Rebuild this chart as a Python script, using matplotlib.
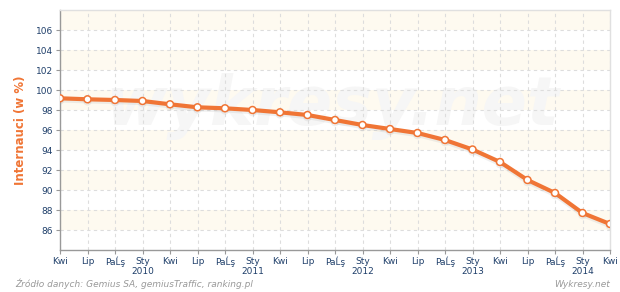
import matplotlib
matplotlib.use("Agg")
from matplotlib import pyplot as plt
import matplotlib.patheffects as pe

# quarterly data, Kwi 2009 .. Kwi 2014
months = ["Kwi", "Lip", "PaĹş", "Sty"] * 5 + ["Kwi"]
years = {3: "2010", 7: "2011", 11: "2012", 15: "2013", 19: "2014"}
values = [99.17, 99.07, 99.0, 98.9, 98.57, 98.27, 98.17, 98.0, 97.77, 97.5,
          97.0, 96.5, 96.1, 95.7, 95.0, 94.05, 92.8, 91.0, 89.7, 87.7, 86.6]

yticks = [86, 88, 90, 92, 94, 96, 98, 100, 102, 104, 106]

orange = "#F07535"
blue = "#1F3F6A"

fig = plt.figure(figsize=(6.2, 2.92), dpi=100)
ax = fig.add_axes([60 / 620, 1 - 250 / 292, 550 / 620, 240 / 292])

x = list(range(len(values)))
ax.set_xlim(0, len(values) - 1)
ax.set_ylim(84, 108)

# alternating background bands
for lo in range(86, 108, 4):
    ax.axhspan(lo, lo + 2, color="#FEFAF0", zorder=0, lw=0)

ax.grid(True, color="#DDDDDD", linestyle=(0, (3, 3)), linewidth=0.8, zorder=1)

ax.text(0.495, 0.6, "wykresy.net", transform=ax.transAxes, fontsize=48,
        fontweight="bold", style="italic", color="#F6F6F6", ha="center",
        va="center", zorder=1)

ax.plot(x, values, color=orange, lw=3, marker="o", markersize=5,
        markerfacecolor="white", markeredgecolor=orange, markeredgewidth=1.1,
        zorder=3,
        path_effects=[pe.SimpleLineShadow(offset=(0, -1.5), shadow_color="#999999", alpha=0.15),
                      pe.Normal()])

ax.set_yticks(yticks)
ax.set_yticklabels([str(v) for v in yticks], color=blue, fontsize=6.5)
ax.set_xticks(x)
labels = [m + ("\n" + years[i] if i in years else "") for i, m in enumerate(months)]
ax.set_xticklabels(labels, color=blue, fontsize=6.5, linespacing=1.2)
ax.tick_params(axis="both", length=3, color="#999999", width=0.8, pad=2)

for s in ["left", "bottom"]:
    ax.spines[s].set_color("#999999")
    ax.spines[s].set_linewidth(1)
for s in ["top", "right"]:
    ax.spines[s].set_color("#E0E0E0")
    ax.spines[s].set_linewidth(1)

ax.set_ylabel("Internauci (w %)", color=orange, fontsize=8.5, fontweight="bold", labelpad=6)

fig.text(15 / 620, 1 - 287 / 292, "Źródło danych: Gemius SA, gemiusTraffic, ranking.pl",
         fontsize=6.5, style="italic", color="#999999", va="baseline")
fig.text(610 / 620, 1 - 287 / 292, "Wykresy.net", fontsize=6.5, style="italic",
         color="#999999", ha="right", va="baseline")

fig.savefig("out.png", dpi=100)
